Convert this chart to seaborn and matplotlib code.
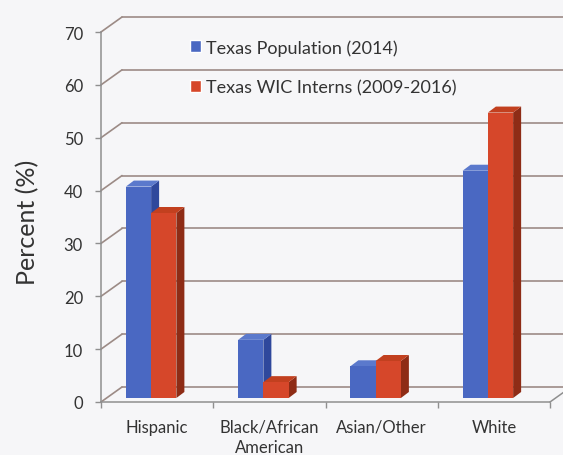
import matplotlib
matplotlib.use("Agg")
import matplotlib.pyplot as plt
import seaborn as sns
import pandas as pd
from matplotlib.patches import Polygon
from matplotlib.transforms import IdentityTransform, ScaledTranslation

# ---- data ----
categories = ["Hispanic", "Black/African\nAmerican", "Asian/Other", "White"]
series_names = ["Texas Population (2014)", "Texas WIC Interns (2009-2016)"]
population_2014 = [40, 11, 6, 43]
wic_interns = [35, 3, 7, 54]
y_ticks = [0, 10, 20, 30, 40, 50, 60, 70]

df = pd.DataFrame({
    "category": categories * 2,
    "series": [series_names[0]] * 4 + [series_names[1]] * 4,
    "value": population_2014 + wic_interns,
})

front_colors = ["#4a68c2", "#d6472a"]
side_colors = ["#2f489c", "#8e2c16"]
top_colors = ["#5b79cc", "#c2401f"]
grid_color = "#9c8b86"
text_color = "#333333"
bg = "#f6f6f8"

sns.set_theme(style="white")
plt.rcParams["font.family"] = ["Lato", "DejaVu Sans"]

DPI = 100
fig = plt.figure(figsize=(5.63, 4.56), dpi=DPI, facecolor=bg)
ax = fig.add_axes([101 / 563, 53 / 456, 449 / 563, 370 / 456])
ax.set_facecolor("none")

sns.barplot(data=df, x="category", y="value", hue="series", order=categories,
            hue_order=series_names, palette=front_colors, width=0.45,
            saturation=1, ax=ax, legend=True, zorder=5)

ax.set_xlim(-0.5, 3.5)
ax.set_ylim(0, 70)
ax.set_yticks(y_ticks)
ax.set_xlabel("")
ax.set_ylabel("")

for s in ["top", "right"]:
    ax.spines[s].set_visible(False)
for s in ["left", "bottom"]:
    ax.spines[s].set_color("#8f8f8f")
    ax.spines[s].set_linewidth(1.1)

ax.tick_params(axis="y", direction="out", length=4, width=1, color="#8f8f8f",
               pad=9, labelsize=12, labelcolor=text_color, left=True)
ax.tick_params(axis="x", which="major", length=0, pad=12, labelsize=12,
               labelcolor=text_color)
for lab in ax.get_xticklabels():
    lab.set_linespacing(1.3)
ax.set_xticks([-0.5, 0.5, 1.5, 2.5, 3.5], minor=True)
ax.tick_params(axis="x", which="minor", direction="out", length=4, width=1,
               color="#8f8f8f", bottom=True)

# ---- back-wall gridlines in pseudo perspective ----
wall_dx, wall_dy = 21 / DPI, 15 / DPI
ytrans = ax.get_yaxis_transform()
wall_off = ytrans + ScaledTranslation(wall_dx, wall_dy, fig.dpi_scale_trans)
for yv in y_ticks:
    ax.plot([0, 1.1], [yv, yv], transform=wall_off, color=grid_color, lw=1.2,
            clip_on=False, zorder=1)
# diagonal connectors from the front axis to the back wall
for yv in y_ticks:
    p0 = ax.transData.transform((-0.5, yv))
    p1 = p0 + [wall_dx * DPI, wall_dy * DPI]
    ax.plot([p0[0], p1[0]], [p0[1], p1[1]], transform=IdentityTransform(),
            color=grid_color, lw=1.2, clip_on=False, zorder=1)
# right floor diagonal
p0 = ax.transData.transform((3.5, 0))
p1 = p0 + [wall_dx * DPI, wall_dy * DPI]
ax.plot([p0[0], p1[0]], [p0[1], p1[1]], transform=IdentityTransform(),
        color="#8f8f8f", lw=1.1, clip_on=False, zorder=1)

# ---- 3D-looking bars ----
shift_x, shift_y = -6, 4      # pixels
depth_x, depth_y = 8, 6       # pixels
bar_off = ax.transData + ScaledTranslation(shift_x / DPI, shift_y / DPI,
                                           fig.dpi_scale_trans)
for i, cont in enumerate(ax.containers):
    for p in cont.patches:
        x0, y0 = p.get_x(), p.get_y()
        x1, y1 = x0 + p.get_width(), y0 + p.get_height()
        (X0, Y0) = ax.transData.transform((x0, y0)) + [shift_x, shift_y]
        (X1, Y1) = ax.transData.transform((x1, y1)) + [shift_x, shift_y]
        side = [(X1, Y0), (X1 + depth_x, Y0 + depth_y),
                (X1 + depth_x, Y1 + depth_y), (X1, Y1)]
        top = [(X0, Y1), (X0 + depth_x, Y1 + depth_y),
               (X1 + depth_x, Y1 + depth_y), (X1, Y1)]
        ax.add_patch(Polygon(side, closed=True, transform=IdentityTransform(),
                             facecolor=side_colors[i], edgecolor="none",
                             zorder=3, clip_on=False))
        ax.add_patch(Polygon(top, closed=True, transform=IdentityTransform(),
                             facecolor=top_colors[i], edgecolor="none",
                             zorder=3, clip_on=False))
        p.set_transform(bar_off)
        p.set_edgecolor("none")
        p.set_zorder(5)

# ---- legend ----
leg = ax.legend(loc="upper left", bbox_to_anchor=(190 / 563, 1 - 40 / 456),
                bbox_transform=fig.transFigure, frameon=False, fontsize=13,
                handlelength=0.6, handleheight=0.6, handletextpad=0.3,
                labelspacing=1.3, borderpad=0, borderaxespad=0)
for t in leg.get_texts():
    t.set_color(text_color)

fig.text(28 / 563, 1 - 222 / 456, "Percent (%)", rotation=90, ha="center",
         va="center", fontsize=18, color=text_color)

fig.savefig("out.png", dpi=DPI, facecolor=bg)
